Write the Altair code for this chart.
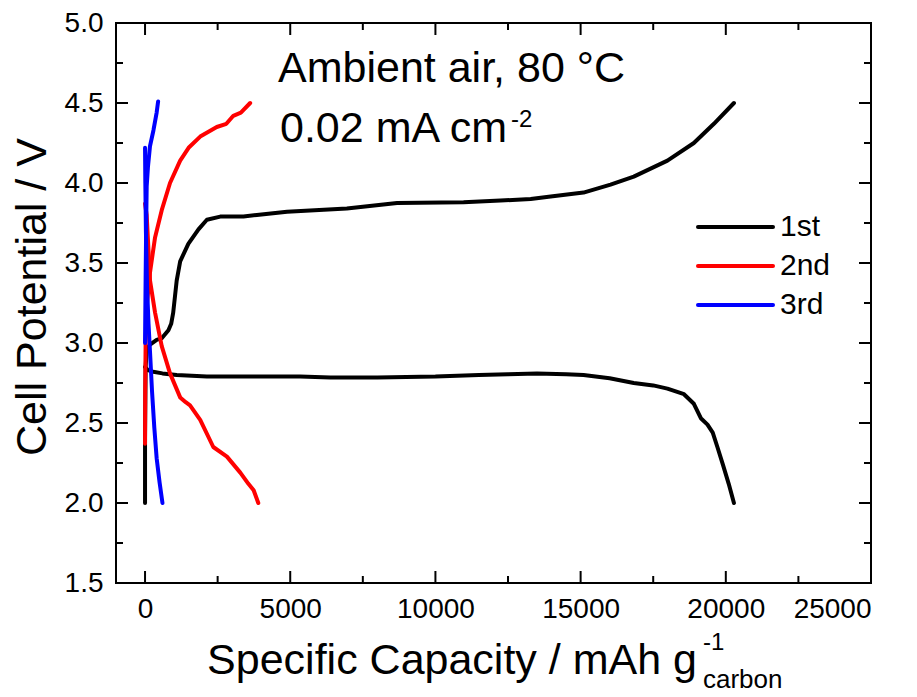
import altair as alt
import pandas as pd

FONT = "Liberation Sans"

cycles = ["1st", "2nd", "3rd"]
colors = ["#000000", "#ff0000", "#0000ff"]

# 1st cycle
c1_dis_x = [0, 100, 280, 600, 1090, 2130, 3500, 5340, 6380, 8000, 10000, 11500, 12500, 13500,
            14500, 15100, 16000, 16830, 17500, 17990, 18560, 18900, 19140, 19370, 19550, 19710,
            19900, 20100, 20280]
c1_dis_y = [2.85, 2.83, 2.82, 2.81, 2.80, 2.79, 2.79, 2.79, 2.785, 2.785, 2.79, 2.80, 2.805, 2.81,
            2.805, 2.80, 2.78, 2.75, 2.735, 2.715, 2.68, 2.62, 2.53, 2.49, 2.44, 2.35,
            2.24, 2.12, 2.0]
c1_chg_x = [0, 0, 20, 60, 172, 400, 575, 805, 900, 970, 1030, 1090, 1210, 1490, 1840, 2130, 2590,
            3390, 3850, 4890, 6950, 8680, 10970, 12240, 13280, 13970, 15100, 16030, 16830, 17990,
            18900, 19590, 20280]
c1_chg_y = [2.0, 2.4, 2.85, 2.96, 2.99, 3.02, 3.03, 3.08, 3.12, 3.19, 3.29, 3.39, 3.51, 3.62, 3.71,
            3.77, 3.79, 3.79, 3.80, 3.82, 3.84, 3.875, 3.88, 3.89, 3.90, 3.915, 3.94, 3.99, 4.04,
            4.14, 4.25, 4.37, 4.50]

# 2nd cycle
c2_dis_x = [0, 57, 172, 345, 575, 860, 1210, 1400, 1550, 1900, 2350, 2820, 3280, 3560, 3740, 3900]
c2_dis_y = [3.87, 3.80, 3.39, 3.19, 2.98, 2.81, 2.66, 2.63, 2.61, 2.52, 2.35, 2.29, 2.19, 2.12, 2.08, 2.0]
c2_chg_x = [0, 5, 20, 57, 170, 345, 575, 860, 1210, 1500, 1900, 2470, 2800, 3040, 3300, 3620]
c2_chg_y = [2.37, 2.7, 3.0, 3.23, 3.44, 3.66, 3.83, 4.0, 4.14, 4.22, 4.29, 4.35, 4.37, 4.42, 4.44, 4.50]

# 3rd cycle
c3_dis_x = [0, 10, 30, 70, 120, 170, 240, 320, 400, 500, 600]
c3_dis_y = [4.22, 4.0, 3.7, 3.35, 3.12, 2.95, 2.7, 2.47, 2.28, 2.13, 2.0]
c3_chg_x = [0, 20, 40, 57, 100, 170, 290, 400, 450]
c3_chg_y = [3.0, 3.4, 3.75, 3.98, 4.10, 4.23, 4.33, 4.44, 4.51]

x_major = [0, 5000, 10000, 15000, 20000, 25000]
x_minor = [2500, 7500, 12500, 17500, 22500]
y_major = [1.5, 2.0, 2.5, 3.0, 3.5, 4.0, 4.5, 5.0]
y_minor = [1.75, 2.25, 2.75, 3.25, 3.75, 4.25, 4.75]

rows = []
for cyc, seg, xs, ys in [
    ("1st", "dis", c1_dis_x, c1_dis_y), ("1st", "chg", c1_chg_x, c1_chg_y),
    ("2nd", "dis", c2_dis_x, c2_dis_y), ("2nd", "chg", c2_chg_x, c2_chg_y),
    ("3rd", "dis", c3_dis_x, c3_dis_y), ("3rd", "chg", c3_chg_x, c3_chg_y),
]:
    for i, (x, y) in enumerate(zip(xs, ys)):
        rows.append({"cycle": cyc, "seg": cyc + "-" + seg, "idx": i, "cap": x, "volt": y})
df = pd.DataFrame(rows)

W, H = 755, 560
xscale = alt.Scale(domain=[-1000, 25000], nice=False, zero=False)
yscale = alt.Scale(domain=[1.5, 5.0], nice=False, zero=False)

xaxis = alt.Axis(values=x_major, format="d", title=None, ticks=False, domain=False,
                 grid=False, labelFontSize=28, labelFont=FONT, labelColor="black",
                 labelPadding=12)
yaxis = alt.Axis(values=y_major, format=".1f", title=None, ticks=False, domain=False,
                 grid=False, labelFontSize=28, labelFont=FONT, labelColor="black",
                 labelPadding=13)

lines = alt.Chart(df).mark_line(strokeWidth=4, strokeCap="round", strokeJoin="round").encode(
    x=alt.X("cap:Q", scale=xscale, axis=xaxis),
    y=alt.Y("volt:Q", scale=yscale, axis=yaxis),
    color=alt.Color("cycle:N", scale=alt.Scale(domain=cycles, range=colors), legend=None),
    detail="seg:N",
    order="idx:Q",
)


def yticks(vals, x0, x1):
    return alt.Chart(pd.DataFrame({"volt": vals})).mark_rule(color="black", strokeWidth=2).encode(
        y=alt.Y("volt:Q", scale=yscale, axis=yaxis), x=alt.value(x0), x2=alt.value(x1))


def xticks(vals, y0, y1):
    return alt.Chart(pd.DataFrame({"cap": vals})).mark_rule(color="black", strokeWidth=2).encode(
        x=alt.X("cap:Q", scale=xscale, axis=xaxis), y=alt.value(y0), y2=alt.value(y1))


MAJ, MIN = 12, 7
ticks = [
    yticks(y_major, 0, MAJ), yticks(y_minor, 0, MIN),
    yticks(y_major, W, W - MAJ), yticks(y_minor, W, W - MIN),
    xticks(x_major, H, H - MAJ), xticks(x_minor, H, H - MIN),
    xticks(x_major, 0, MAJ), xticks(x_minor, 0, MIN),
]


def label(text, x, y, size, align="left", baseline="alphabetic", angle=0, color="black"):
    return alt.Chart(pd.DataFrame({"t": [text]})).mark_text(
        font=FONT, fontSize=size, align=align, baseline=baseline, angle=angle, color=color
    ).encode(text="t:N", x=alt.value(x), y=alt.value(y))


texts = [
    label("Cell Potential / V", -83, 274, 43, align="center", baseline="middle", angle=270),
    label("Specific Capacity / mAh g", 581, 651, 43, align="right"),
    label("-1", 587, 627, 24),
    label("carbon", 587, 665, 26),
    label("Ambient air, 80 °C", 162, 59, 43),
    label("0.02 mA cm", 164, 119, 43),
    label("-2", 395, 104, 24),
]

# legend
leg_y = [204, 243, 282]
legend = []
for name, col, yy in zip(cycles, colors, leg_y):
    legend.append(
        alt.Chart(pd.DataFrame({"c": [name]})).mark_rule(strokeWidth=4, strokeCap="round").encode(
            x=alt.value(582), x2=alt.value(657), y=alt.value(yy),
            color=alt.Color("c:N", scale=alt.Scale(domain=cycles, range=colors), legend=None))
    )
    legend.append(label(name, 664, yy, 30, baseline="middle"))

chart = alt.layer(lines, *ticks, *texts, *legend).properties(
    width=W, height=H,
    padding={"left": 108, "top": 15, "right": 38, "bottom": 112},
    autosize=alt.AutoSizeParams(type="none"),
    background="white",
).configure_view(stroke="black", strokeWidth=2)

chart.save("out.html", embed_options={"renderer": "svg", "actions": False})
